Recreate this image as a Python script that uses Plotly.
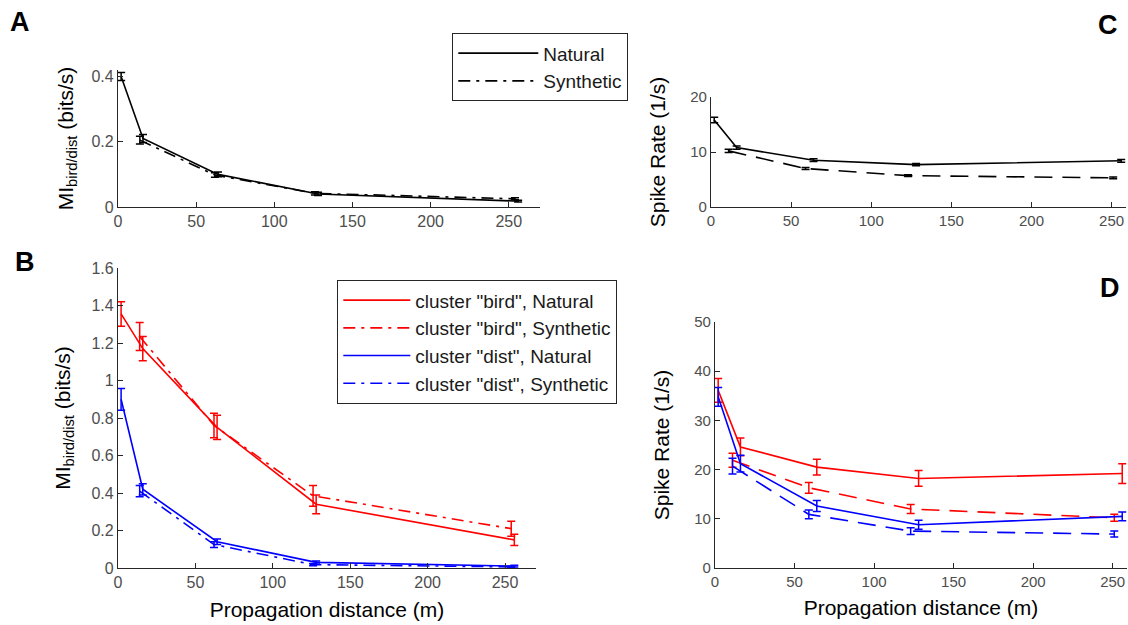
import plotly.graph_objects as go

# distances (m)
dist_nat = [2, 16, 64, 128, 256]
dist_syn_ab = [14, 62, 126, 254]
dist_syn_cd = [11, 59, 123, 251]

# A: MI, all units
a_nat = [0.40, 0.21, 0.10, 0.04, 0.018]
a_nat_err = [0.012, 0.012, 0.007, 0.005, 0.003]
a_syn = [0.205, 0.098, 0.042, 0.025]
a_syn_err = [0.012, 0.007, 0.005, 0.003]

# B: MI per cluster
b_bird_nat = [1.355, 1.17, 0.75, 0.34, 0.15]
b_bird_nat_err = [0.065, 0.065, 0.065, 0.05, 0.03]
b_bird_syn = [1.235, 0.76, 0.385, 0.21]
b_bird_syn_err = [0.075, 0.065, 0.055, 0.04]
b_dist_nat = [0.90, 0.42, 0.14, 0.03, 0.01]
b_dist_nat_err = [0.058, 0.03, 0.015, 0.008, 0.005]
b_dist_syn = [0.41, 0.125, 0.018, 0.006]
b_dist_syn_err = [0.03, 0.015, 0.006, 0.004]

# C: spike rate, all units
c_nat = [15.8, 10.8, 8.5, 7.7, 8.4]
c_nat_err = [0.5, 0.3, 0.25, 0.2, 0.25]
c_syn = [10.2, 7.0, 5.7, 5.3]
c_syn_err = [0.3, 0.2, 0.15, 0.15]

# D: spike rate per cluster
d_bird_nat = [36.1, 24.6, 20.5, 18.2, 19.2]
d_bird_nat_err = [2.4, 1.8, 1.6, 1.6, 2.0]
d_bird_syn = [21.9, 16.3, 12.0, 10.2]
d_bird_syn_err = [1.4, 1.1, 0.9, 0.7]
d_dist_nat = [34.8, 21.2, 12.6, 8.8, 10.5]
d_dist_nat_err = [1.9, 1.7, 1.1, 0.9, 0.9]
d_dist_syn = [20.7, 10.9, 7.5, 6.9]
d_dist_syn_err = [1.6, 0.9, 0.7, 0.6]

RED = "#ff0000"
BLUE = "#0000ff"
BLACK = "#000000"
DASHDOT = "12px,6px,3px,6px"
DASHED = "18px,10px"

W, H = 1128, 625


def line(x, y, err, color, dash, name, xa, ya, legend=None, show=False):
    return go.Scatter(
        x=x, y=y, mode="lines", name=name,
        line=dict(color=color, width=1.6, dash=dash),
        error_y=dict(type="data", array=err, color=color, thickness=1.5, width=4),
        xaxis=xa, yaxis=ya, showlegend=show, legend=legend,
    )


fig = go.Figure()

# A
fig.add_trace(line(dist_nat, a_nat, a_nat_err, BLACK, "solid", "Natural", "x", "y", "legend", True))
fig.add_trace(line(dist_syn_ab, a_syn, a_syn_err, BLACK, DASHDOT, "Synthetic", "x", "y", "legend", True))

# B
fig.add_trace(line(dist_nat, b_bird_nat, b_bird_nat_err, RED, "solid", 'cluster "bird", Natural', "x2", "y2", "legend2", True))
fig.add_trace(line(dist_syn_ab, b_bird_syn, b_bird_syn_err, RED, DASHDOT, 'cluster "bird", Synthetic', "x2", "y2", "legend2", True))
fig.add_trace(line(dist_nat, b_dist_nat, b_dist_nat_err, BLUE, "solid", 'cluster "dist", Natural', "x2", "y2", "legend2", True))
fig.add_trace(line(dist_syn_ab, b_dist_syn, b_dist_syn_err, BLUE, DASHDOT, 'cluster "dist", Synthetic', "x2", "y2", "legend2", True))

# C
fig.add_trace(line(dist_nat, c_nat, c_nat_err, BLACK, "solid", "Natural", "x3", "y3"))
fig.add_trace(line(dist_syn_cd, c_syn, c_syn_err, BLACK, DASHED, "Synthetic", "x3", "y3"))

# D
fig.add_trace(line(dist_nat, d_bird_nat, d_bird_nat_err, RED, "solid", "bird nat", "x4", "y4"))
fig.add_trace(line(dist_syn_cd, d_bird_syn, d_bird_syn_err, RED, DASHED, "bird syn", "x4", "y4"))
fig.add_trace(line(dist_nat, d_dist_nat, d_dist_nat_err, BLUE, "solid", "dist nat", "x4", "y4"))
fig.add_trace(line(dist_syn_cd, d_dist_syn, d_dist_syn_err, BLUE, DASHED, "dist syn", "x4", "y4"))

FONT = "Liberation Sans, Arial, sans-serif"
TICK_AB = dict(family=FONT, size=16, color="#4d4d4d")
TICK_CD = dict(family=FONT, size=15, color="#4d4d4d")
TITLEFONT = dict(family=FONT, size=21, color="#000000")


def px_dom(a, b, total):
    return [a / total, b / total]


def ydom(top, bottom):
    return [1 - bottom / H, 1 - top / H]


def xaxis(dom, rng, tickfont, title=None):
    d = dict(domain=dom, range=rng, tickvals=[0, 50, 100, 150, 200, 250],
             showline=True, linecolor="#262626", linewidth=1.3,
             ticks="inside", ticklen=5, tickcolor="#262626", tickwidth=1.3,
             showgrid=False, zeroline=False, tickfont=tickfont, automargin=False)
    if title:
        d["title"] = dict(text=title, font=TITLEFONT, standoff=11)
    return d


def yaxis(dom, rng, ticks, title, anchor, tickfont, standoff):
    return dict(domain=dom, range=rng, tickvals=ticks, anchor=anchor,
                showline=True, linecolor="#262626", linewidth=1.3,
                ticks="inside", ticklen=5, tickcolor="#262626", tickwidth=1.3,
                showgrid=False, zeroline=False, tickfont=tickfont, automargin=False,
                title=dict(text=title, font=TITLEFONT, standoff=standoff))


MI_TITLE = "MI<sub>bird/dist</sub> (bits/s)"
SR_TITLE = "Spike Rate (1/s)"

LEGFONT = dict(family=FONT, size=19, color="#1a1a1a")

fig.update_layout(
    width=W, height=H,
    margin=dict(l=0, r=0, t=0, b=0),
    paper_bgcolor="white", plot_bgcolor="white",
    font=dict(family=FONT, color="#000000"),
    xaxis=dict(xaxis(px_dom(118, 540, W), [0, 270], TICK_AB), anchor="y"),
    yaxis=yaxis(ydom(70, 207), [0, 0.42], [0, 0.2, 0.4], MI_TITLE, "x", TICK_AB, 12),
    xaxis2=dict(xaxis(px_dom(118, 536, W), [0, 270], TICK_AB, "Propagation distance (m)"), anchor="y2"),
    yaxis2=yaxis(ydom(268, 568), [0, 1.6], [0, 0.2, 0.4, 0.6, 0.8, 1, 1.2, 1.4, 1.6],
                 MI_TITLE, "x2", TICK_AB, 15),
    xaxis3=dict(xaxis(px_dom(711, 1126, W), [0, 259], TICK_CD), anchor="y3"),
    yaxis3=yaxis(ydom(97, 207), [0, 20], [0, 10, 20], SR_TITLE, "x3", TICK_CD, 18),
    xaxis4=dict(xaxis(px_dom(715, 1127, W), [0, 259], TICK_CD, "Propagation distance (m)"), anchor="y4"),
    yaxis4=yaxis(ydom(322, 568), [0, 50], [0, 10, 20, 30, 40, 50], SR_TITLE, "x4", TICK_CD, 18),
    legend=dict(x=452 / W, y=1 - 33 / H, xanchor="left", yanchor="top",
                bordercolor="#262626", borderwidth=1.3, bgcolor="white",
                font=LEGFONT, tracegroupgap=0, itemwidth=80),
    legend2=dict(x=337 / W, y=1 - 280 / H, xanchor="left", yanchor="top",
                 bordercolor="#262626", borderwidth=1.3, bgcolor="white",
                 font=LEGFONT, tracegroupgap=0, itemwidth=67),
    showlegend=True,
)

letters = [("A", 20, 22), ("B", 25, 262), ("C", 1108, 25), ("D", 1110, 288)]
for txt, x, y in letters:
    fig.add_annotation(text=txt, x=x / W, y=1 - y / H, xref="paper", yref="paper",
                       showarrow=False, xanchor="center", yanchor="middle",
                       font=dict(family=FONT, size=27, color="#000000", weight="bold"))

fig.write_html(
    "out.html",
    config={"displayModeBar": False},
    post_script="document.body.style.margin='0';document.body.style.overflow='hidden';",
)
